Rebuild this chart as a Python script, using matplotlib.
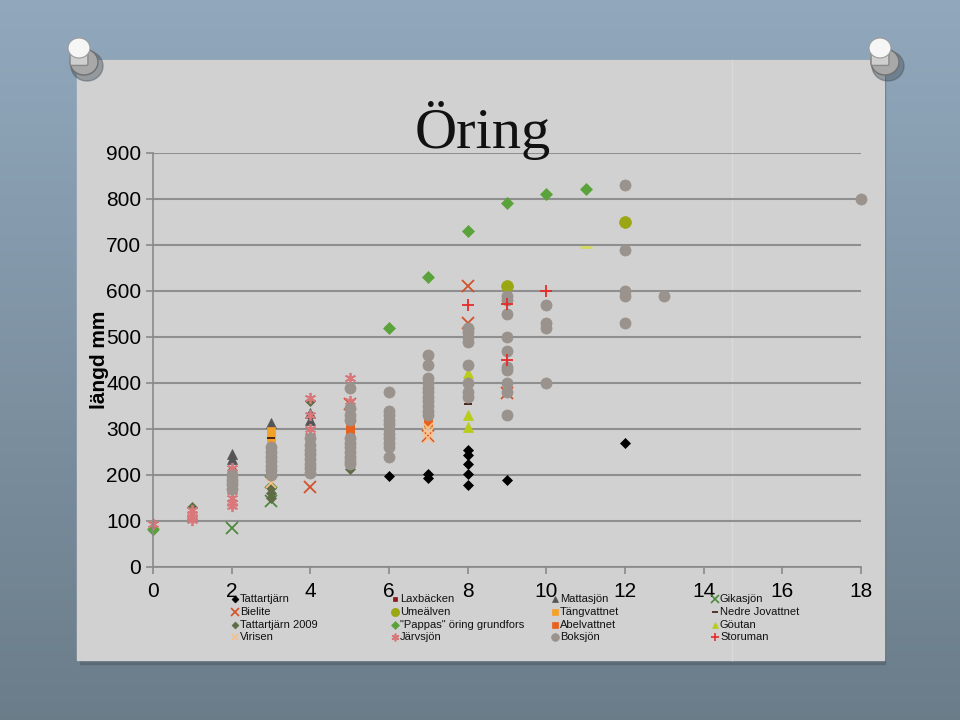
import numpy as np
import matplotlib.pyplot as plt
from matplotlib.lines import Line2D
from matplotlib.patches import Rectangle, Ellipse, FancyBboxPatch

# data per lake: (age, length mm)
tattartjarn_x = [6, 7, 7, 8, 8, 8, 8, 8, 9, 12]
tattartjarn_y = [198, 202, 193, 254, 243, 224, 202, 178, 189, 270]
laxbacken_x = [3]
laxbacken_y = [272]
mattasjon_x = [2, 2, 3, 4, 4]
mattasjon_y = [245, 235, 312, 335, 320]
gikasjon_x = [2, 3, 3]
gikasjon_y = [84, 185, 143]
bielite_x = [4, 5, 7, 8, 8, 9]
bielite_y = [175, 355, 285, 610, 530, 378]
umealven_x = [9, 12]
umealven_y = [610, 750]
tangvattnet_x = [3, 3, 3, 7]
tangvattnet_y = [296, 285, 275, 312]
nedre_x = [8, 3]
nedre_y = [354, 280]
tattartjarn09_x = [0, 1, 2, 3, 3, 3, 4, 5]
tattartjarn09_y = [80, 130, 210, 172, 160, 150, 360, 212]
pappas_x = [0, 6, 7, 8, 9, 10, 11]
pappas_y = [82, 520, 630, 730, 791, 811, 822]
abelvattnet_x = [5, 5, 5, 7]
abelvattnet_y = [310, 298, 290, 315]
goutan_x = [6, 8, 8, 8]
goutan_y = [306, 422, 330, 304]
virisen_x = [3, 6, 7, 7, 7]
virisen_y = [182, 300, 302, 292, 280]
jarvsjon_x = [0, 1, 1, 1, 1, 2, 2, 2, 2, 2, 2, 2, 3, 3, 3, 3, 4, 4, 4, 4, 5, 5]
jarvsjon_y = [93, 125, 115, 108, 102, 215, 200, 175, 165, 150, 140, 133,
              250, 240, 225, 210, 368, 330, 300, 285, 410, 360]
boksjon_x = [2, 2, 2, 2,
             3, 3, 3, 3, 3, 3, 3,
             4, 4, 4, 4, 4, 4, 4, 4,
             5, 5, 5, 5, 5, 5, 5, 5, 5, 5, 5,
             6, 6, 6, 6, 6, 6, 6, 6, 6, 6, 6,
             7, 7, 7, 7, 7, 7, 7, 7, 7, 7, 7,
             8, 8, 8, 8, 8, 8, 8, 8,
             9, 9, 9, 9, 9, 9, 9, 9, 9, 9,
             10, 10, 10, 10,
             12, 12, 12, 12, 12,
             13, 18]
boksjon_y = [200, 190, 180, 170,
             260, 250, 240, 230, 220, 210, 200,
             280, 265, 255, 245, 235, 225, 215, 205,
             390, 345, 330, 320, 280, 270, 260, 250, 240, 230, 225,
             380, 340, 330, 320, 310, 300, 290, 280, 270, 260, 240,
             460, 440, 410, 400, 390, 380, 370, 360, 350, 340, 330,
             520, 510, 500, 490, 440, 400, 380, 370,
             590, 580, 550, 500, 470, 435, 428, 400, 380, 330,
             570, 530, 520, 400,
             830, 690, 600, 590, 530,
             590, 800]
storuman_x = [8, 9, 9, 10]
storuman_y = [570, 572, 450, 600]
odd_dash_x = [11]
odd_dash_y = [695]

series = [
    ("Tattartjärn", tattartjarn_x, tattartjarn_y, "D", "#000000", 5),
    ("Laxbäcken", laxbacken_x, laxbacken_y, "s", "#8b1a1a", 5),
    ("Mattasjön", mattasjon_x, mattasjon_y, "^", "#555555", 7),
    ("Gikasjön", gikasjon_x, gikasjon_y, "x", "#4e8a3e", 8),
    ("Bielite", bielite_x, bielite_y, "x", "#d2522a", 8),
    ("Umeälven", umealven_x, umealven_y, "o", "#9aa612", 8.5),
    ("Tängvattnet", tangvattnet_x, tangvattnet_y, "s", "#f4a12a", 6),
    ("Nedre Jovattnet", nedre_x, nedre_y, "_", "#3a1a10", 6),
    ("Tattartjärn 2009", tattartjarn09_x, tattartjarn09_y, "D", "#5e6b45", 5),
    ('"Pappas" öring grundfors', pappas_x, pappas_y, "D", "#5aa33a", 6),
    ("Abelvattnet", abelvattnet_x, abelvattnet_y, "s", "#e8601c", 6),
    ("Göutan", goutan_x, goutan_y, "^", "#b8cc18", 7),
    ("Virisen", virisen_x, virisen_y, "x", "#f8c08a", 7),
    ("Järvsjön", jarvsjon_x, jarvsjon_y, (6, 2, 0), "#d8787a", 8),
    ("Boksjön", boksjon_x, boksjon_y, "o", "#9a928c", 8),
    ("Storuman", storuman_x, storuman_y, "+", "#e82a2a", 8),
]

W, H = 960, 720
fig = plt.figure(figsize=(9.6, 7.2), dpi=100)

def fx(px):
    return px / W

def fy(py):
    return 1 - py / H

# background board
bg = fig.add_axes([0, 0, 1, 1], zorder=-10)
grad = np.linspace(0, 1, 200)[:, None]
top = np.array([0.57, 0.66, 0.74])
bot = np.array([0.42, 0.49, 0.54])
img = top[None, None, :] * (1 - grad[:, :, None]) + bot[None, None, :] * grad[:, :, None]
bg.imshow(img, aspect="auto", extent=[0, 1, 0, 1])
bg.set_xlim(0, 1)
bg.set_ylim(0, 1)
bg.axis("off")

# slide panel with shadow
fig.add_artist(Rectangle((fx(80), fy(664)), fx(885) - fx(80), fy(60) - fy(664),
                         transform=fig.transFigure, color="#55606a", alpha=0.6, zorder=-9))
fig.add_artist(Rectangle((fx(77), fy(660)), fx(884) - fx(77), fy(60) - fy(660),
                         transform=fig.transFigure, color="#d1d1d1", zorder=-8))
fig.add_artist(Line2D([fx(732), fx(732)], [fy(60), fy(660)], transform=fig.transFigure,
                      color="#dadada", lw=1, zorder=-7))

# push pins
def pin(cx, cy):
    fig.add_artist(Ellipse((fx(cx + 8), fy(cy + 16)), fx(32), 30 / H, transform=fig.transFigure,
                           color="#4a5560", alpha=0.45, zorder=-6))
    fig.add_artist(Ellipse((fx(cx + 5), fy(cy + 12)), fx(28), 26 / H, transform=fig.transFigure,
                           color="#a8a8a8", ec="#707070", zorder=-5))
    fig.add_artist(FancyBboxPatch((fx(cx - 7), fy(cy + 14)), fx(14), 16 / H,
                                  boxstyle="round,pad=0.002", transform=fig.transFigure,
                                  color="#cfcfcf", ec="#8a8a8a", zorder=-4))
    fig.add_artist(Ellipse((fx(cx), fy(cy - 2)), fx(22), 20 / H, transform=fig.transFigure,
                           color="#f6f6f6", ec="#9a9a9a", lw=0.8, zorder=-3))

pin(79, 50)
pin(880, 50)

# chart
ax = fig.add_axes([fx(153), fy(567), fx(861) - fx(153), fy(153) - fy(567)])
ax.set_facecolor("none")
for name, xs, ys, mk, col, ms in series:
    ax.plot(xs, ys, linestyle="none", marker=mk, color=col, markersize=ms,
            markeredgewidth=1.3 if mk in ("x", "+", "_", (6, 2, 0)) else 0.5,
            markeredgecolor=col, label=name, clip_on=False)
ax.plot(odd_dash_x, odd_dash_y, linestyle="none", marker="_", color="#d4dc60",
        markersize=9, markeredgewidth=2)

ax.set_xlim(0, 18)
ax.set_ylim(0, 900)
ax.set_xticks(range(0, 19, 2))
ax.set_yticks(range(0, 901, 100))
ax.grid(axis="y", color="#8f8f8f", lw=1.5)
ax.set_axisbelow(True)
for s in ["top", "right"]:
    ax.spines[s].set_visible(False)
for s in ["left", "bottom"]:
    ax.spines[s].set_color("#8a8a8a")
    ax.spines[s].set_linewidth(1.2)
ax.tick_params(colors="#8a8a8a", labelcolor="black", labelsize=15, length=5, width=1.2)
ax.tick_params(axis="x", pad=6)
for lab in ax.get_xticklabels() + ax.get_yticklabels():
    lab.set_family("Liberation Sans")
ax.set_ylabel("längd mm", fontsize=15, fontweight="bold", family="Liberation Sans", labelpad=-2)

fig.text(0.503, fy(130), "Öring", ha="center", va="center", fontsize=42,
         family="Liberation Serif", color="#111111")

# legend, 4 equal columns as in the original
col_px = [235, 395, 555, 715]
row_px = [599, 612, 625, 637]
for i, (name, xs, ys, mk, col, ms) in enumerate(series):
    r, c = divmod(i, 4)
    fig.add_artist(Line2D([fx(col_px[c])], [fy(row_px[r])], transform=fig.transFigure,
                          marker=mk, color=col, markersize=ms * 0.7, linestyle="none",
                          markeredgewidth=1.2 if mk in ("x", "+", "_", (6, 2, 0)) else 0.5,
                          markeredgecolor=col))
    fig.text(fx(col_px[c] + 5), fy(row_px[r]), name, ha="left", va="center",
             fontsize=8, family="Liberation Sans", color="#111111")

fig.savefig("out.png", dpi=100)
